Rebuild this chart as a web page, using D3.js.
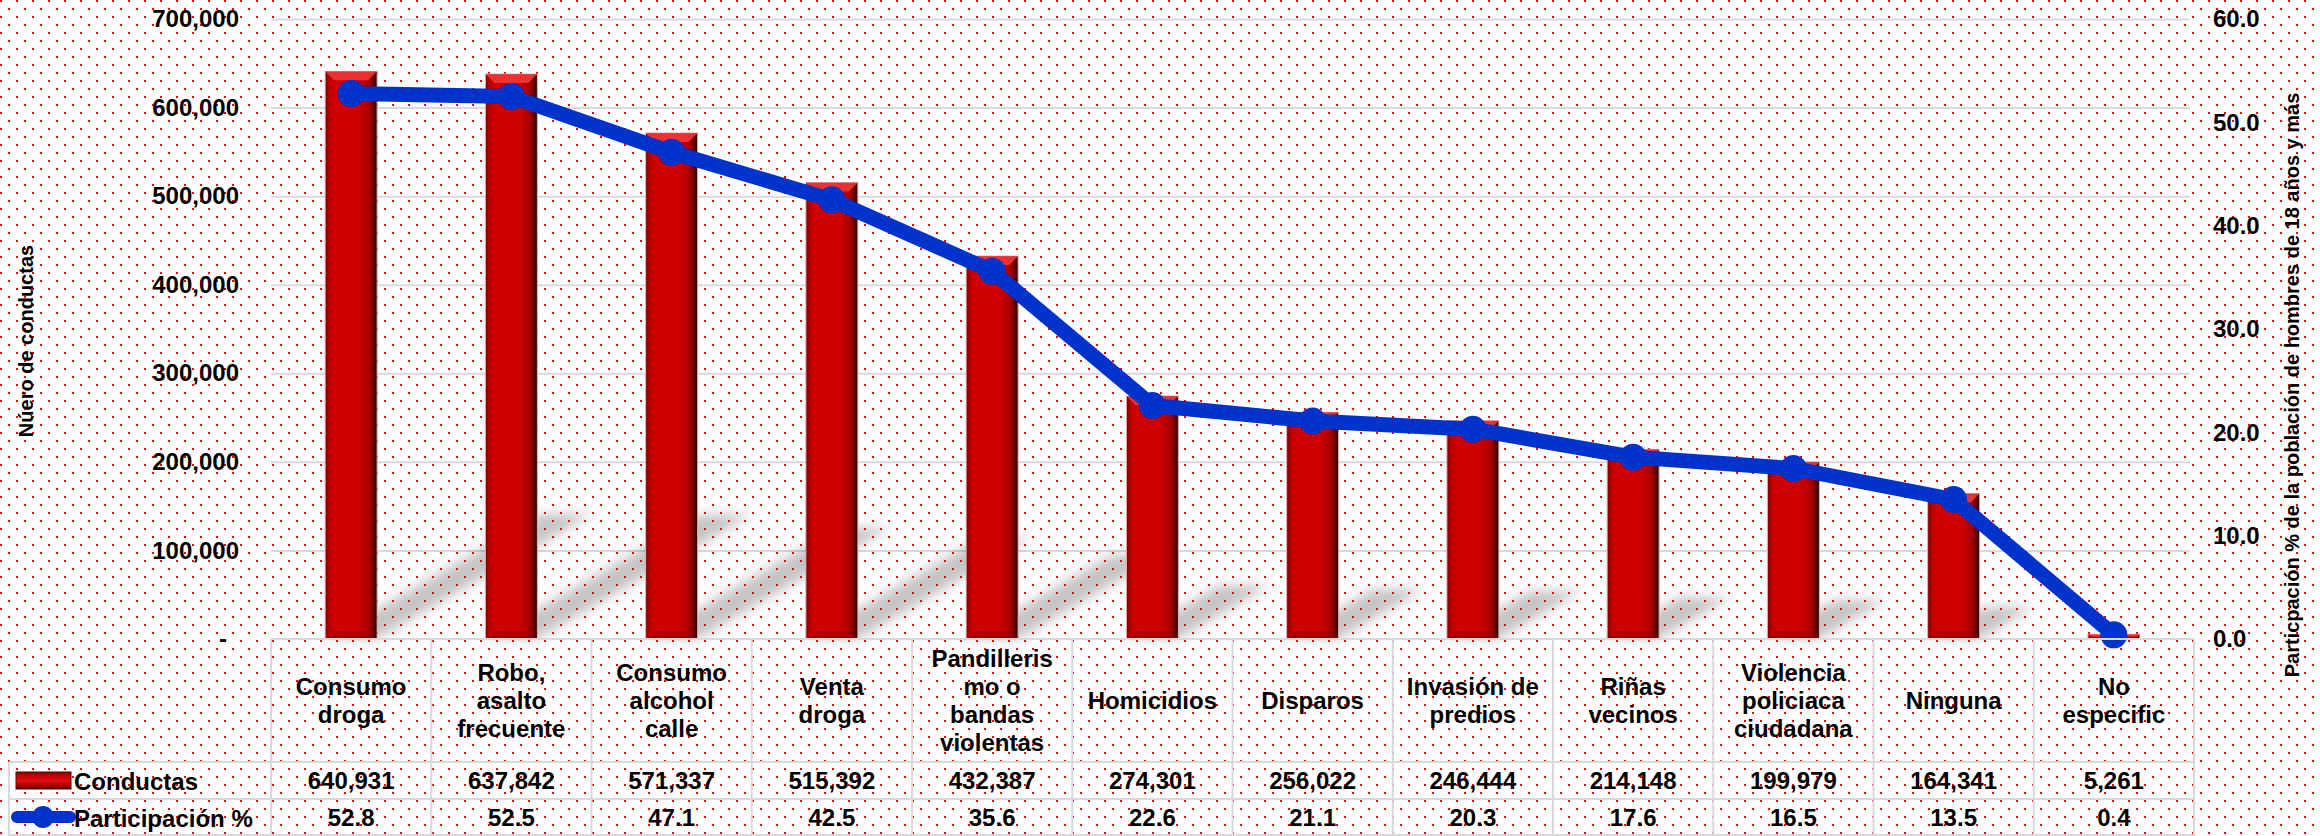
<!DOCTYPE html>
<html>
<head>
<meta charset="utf-8">
<script src="https://cdn.jsdelivr.net/npm/d3@7/dist/d3.min.js"></script>
<style>
  html, body { margin: 0; padding: 0; background: #fff; }
  svg { display: block; font-family: "Liberation Sans", Arial, sans-serif; font-weight: bold; }
</style>
</head>
<body>
<div id="chart"></div>
<script>
// categories (line breaks as in the original table)
const categories = [
    'Consumo\ndroga', 'Robo,\nasalto\nfrecuente', 'Consumo\nalcohol\ncalle', 'Venta\ndroga',
    'Pandilleris\nmo o\nbandas\nviolentas', 'Homicidios', 'Disparos', 'Invasión de\npredios',
    'Riñas\nvecinos', 'Violencia\npoliciaca\nciudadana', 'Ninguna', 'No\nespecific'
];
const conductas = [640931, 637842, 571337, 515392, 432387, 274301, 256022, 246444, 214148, 199979, 164341, 5261];
const participacion = [52.8, 52.5, 47.1, 42.5, 35.6, 22.6, 21.1, 20.3, 17.6, 16.5, 13.5, 0.4];
const leftTicks = [0, 100000, 200000, 300000, 400000, 500000, 600000, 700000];
const rightTicks = [0, 10, 20, 30, 40, 50, 60];
const seriesNames = ['Conductas', 'Participación %'];
const leftTitle = 'Núero de conductas';
const rightTitle = 'Particpación % de la población de hombres de 18 años y más';

const W = 2320, H = 836;
const plot = { left: 271, right: 2194, top: 19, bottom: 639 };
const rows = { head: 762, r1: 799, r2: 836, legendLeft: 9 };
const RED = '#cc0000', BLUE = '#0033cc', GRID = '#d9d9d9';

const svg = d3.select('#chart').append('svg').attr('width', W).attr('height', H);
const defs = svg.append('defs');

// dotted background
const pat = defs.append('pattern').attr('id', 'dots')
    .attr('patternUnits', 'userSpaceOnUse').attr('width', 16).attr('height', 16);
pat.append('rect').attr('x', 0).attr('y', 0).attr('width', 2).attr('height', 2).attr('fill', '#ff0000');
pat.append('rect').attr('x', 8).attr('y', 8).attr('width', 2).attr('height', 2).attr('fill', '#ff0000');
svg.append('rect').attr('width', W).attr('height', H).attr('fill', '#fff');
svg.append('rect').attr('width', W).attr('height', H).attr('fill', 'url(#dots)');

// bar gradient
const bg = defs.append('linearGradient').attr('id', 'barGrad').attr('x1', 0).attr('x2', 1).attr('y1', 0).attr('y2', 0);
[['0%', '#7a0000'], ['8%', '#b80000'], ['18%', '#d00000'], ['65%', '#cc0000'], ['85%', '#a80000'], ['100%', '#2a0000']]
    .forEach(([o, c]) => bg.append('stop').attr('offset', o).attr('stop-color', c));
const lg = defs.append('linearGradient').attr('id', 'legGrad').attr('x1', 0).attr('x2', 0).attr('y1', 0).attr('y2', 1);
[['0%', '#7a0000'], ['25%', '#cc0000'], ['55%', '#d81010'], ['80%', '#a80000'], ['100%', '#3a0000']]
    .forEach(([o, c]) => lg.append('stop').attr('offset', o).attr('stop-color', c));
defs.append('filter').attr('id', 'blur').attr('x', '-30%').attr('y', '-30%').attr('width', '160%').attr('height', '160%')
    .append('feGaussianBlur').attr('stdDeviation', 6);

const x = d3.scaleBand().domain(categories).range([plot.left, plot.right]);
const y = d3.scaleLinear().domain([0, 700000]).range([plot.bottom, plot.top]);
const y2 = d3.scaleLinear().domain([0, 60]).range([plot.bottom, plot.top]);
const bw = 52;
const cx = (i) => x(categories[i]) + x.bandwidth() / 2;

// gridlines
svg.append('g')
    .call(d3.axisLeft(y).tickValues(leftTicks.slice(1)).tickSize(-(2190 - plot.left)).tickFormat(''))
    .attr('transform', `translate(${plot.left},0)`)
    .call((s) => s.select('.domain').remove())
    .call((s) => s.selectAll('line').attr('stroke', GRID).attr('stroke-width', 2));

// shadows
svg.append('g').attr('filter', 'url(#blur)').attr('opacity', 0.3)
    .selectAll('path').data(conductas).join('path')
    .attr('fill', '#404040')
    .attr('d', (d, i) => {
        const h = y(0) - y(d), x0 = cx(i) - bw / 2, x1 = cx(i) + bw / 2, b = y(0);
        const dx = 0.38 * h, dy = 0.22 * h;
        return `M${x0},${b}L${x1},${b}L${x1 + dx},${b - dy}L${x0 + dx},${b - dy}Z`;
    });

// bars
const bars = svg.append('g').selectAll('g').data(conductas).join('g');
bars.append('rect')
    .attr('x', (d, i) => cx(i) - bw / 2).attr('y', (d) => y(d))
    .attr('width', bw).attr('height', (d) => y(0) - y(d))
    .attr('fill', 'url(#barGrad)').attr('stroke', '#e0b4b4').attr('stroke-width', 1);
bars.append('path').attr('fill', '#f03a3a').attr('opacity', 0.85)
    .attr('d', (d, i) => {
        const h = y(0) - y(d), k = Math.min(9, h / 2), x0 = cx(i) - bw / 2, x1 = cx(i) + bw / 2, t = y(d);
        return `M${x0},${t}L${x1},${t}L${x1 - k},${t + k}L${x0 + k},${t + k}Z`;
    });
bars.append('path').attr('fill', '#8a0000').attr('opacity', 0.6)
    .attr('d', (d, i) => {
        const h = y(0) - y(d), k = Math.min(8, h / 2), x0 = cx(i) - bw / 2, x1 = cx(i) + bw / 2, b = y(0);
        return `M${x0},${b}L${x1},${b}L${x1 - k},${b - k}L${x0 + k},${b - k}Z`;
    });

// line + markers
svg.append('path').datum(participacion)
    .attr('fill', 'none').attr('stroke', BLUE).attr('stroke-width', 15).attr('stroke-linejoin', 'round')
    .attr('d', d3.line().x((d, i) => cx(i)).y((d) => y2(d)));
svg.append('g').selectAll('circle').data(participacion).join('circle')
    .attr('cx', (d, i) => cx(i)).attr('cy', (d) => y2(d)).attr('r', 13.5).attr('fill', BLUE);

// left axis
const la = svg.append('g').attr('transform', 'translate(239,0)')
    .call(d3.axisLeft(y).tickValues(leftTicks).tickSize(0).tickPadding(0)
        .tickFormat((d) => d === 0 ? '-' : d3.format(',')(d)));
la.select('.domain').remove();
la.selectAll('text').attr('font-size', 24).attr('font-family', '"Liberation Sans", Arial, sans-serif')
    .attr('font-weight', 'bold').attr('fill', '#000')
    .attr('dx', (d) => d === 0 ? -12 : 0);

// right axis
const ra = svg.append('g').attr('transform', 'translate(2213,0)')
    .call(d3.axisRight(y2).tickValues(rightTicks).tickSize(0).tickPadding(0).tickFormat(d3.format('.1f')));
ra.select('.domain').remove();
ra.selectAll('text').attr('font-size', 24).attr('font-family', '"Liberation Sans", Arial, sans-serif')
    .attr('font-weight', 'bold').attr('fill', '#000');

// axis titles
svg.append('text').attr('transform', 'translate(33,341) rotate(-90)')
    .attr('text-anchor', 'middle').attr('font-size', 20).text(leftTitle);
svg.append('text').attr('transform', 'translate(2299,385) rotate(-90)')
    .attr('text-anchor', 'middle').attr('font-size', 20).text(rightTitle);

// data table
const tg = svg.append('g').attr('stroke', GRID).attr('stroke-width', 2).attr('fill', 'none');
const bounds = categories.map((c) => x(c)).concat([plot.right]);
bounds.forEach((bx) => tg.append('line').attr('x1', bx).attr('x2', bx).attr('y1', plot.bottom).attr('y2', rows.r2));
tg.append('line').attr('x1', rows.legendLeft).attr('x2', rows.legendLeft).attr('y1', rows.head).attr('y2', rows.r2);
tg.append('line').attr('x1', plot.left).attr('x2', plot.right).attr('y1', plot.bottom).attr('y2', plot.bottom);
[rows.head, rows.r1].forEach((ry) => tg.append('line').attr('x1', rows.legendLeft).attr('x2', plot.right).attr('y1', ry).attr('y2', ry));
tg.append('line').attr('x1', rows.legendLeft).attr('x2', plot.right).attr('y1', rows.r2 - 1).attr('y2', rows.r2 - 1);

// category labels
const lh = 28, headMid = (plot.bottom + rows.head) / 2;
svg.append('g').selectAll('text').data(categories).join('text')
    .attr('text-anchor', 'middle').attr('font-size', 24)
    .each(function (c, i) {
        const lines = c.split('\n');
        const t0 = headMid - (lines.length - 1) * lh / 2 + 8;
        d3.select(this).selectAll('tspan').data(lines).join('tspan')
            .attr('x', cx(i)).attr('y', (l, j) => t0 + j * lh).text((l) => l);
    });

// value rows
svg.append('g').selectAll('text').data(conductas).join('text')
    .attr('x', (d, i) => cx(i)).attr('y', (rows.head + rows.r1) / 2 + 8.5)
    .attr('text-anchor', 'middle').attr('font-size', 24).text((d) => d3.format(',')(d));
svg.append('g').selectAll('text').data(participacion).join('text')
    .attr('x', (d, i) => cx(i)).attr('y', (rows.r1 + rows.r2) / 2 + 8.5)
    .attr('text-anchor', 'middle').attr('font-size', 24).text((d) => d3.format('.1f')(d));

// legend keys
svg.append('rect').attr('x', 16).attr('y', 772).attr('width', 55).attr('height', 17)
    .attr('fill', 'url(#legGrad)').attr('stroke', '#5a0000').attr('stroke-width', 1);
svg.append('line').attr('x1', 17).attr('x2', 70).attr('y1', 817).attr('y2', 817)
    .attr('stroke', BLUE).attr('stroke-width', 12).attr('stroke-linecap', 'round');
svg.append('circle').attr('cx', 43).attr('cy', 817).attr('r', 11).attr('fill', BLUE);
svg.append('g').selectAll('text').data(seriesNames).join('text')
    .attr('x', 74).attr('y', (d, i) => i === 0 ? 789.5 : 826.5)
    .attr('font-size', 24).text((d) => d);
</script>
</body>
</html>
